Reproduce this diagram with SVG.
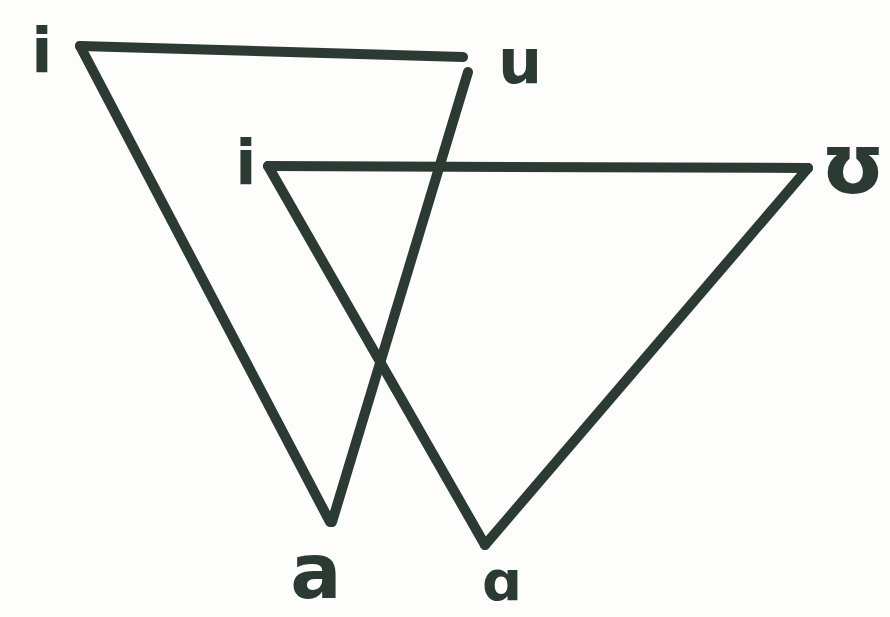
<svg xmlns="http://www.w3.org/2000/svg" width="890" height="617" viewBox="0 0 890 617">
<style>
.ln{stroke:#2b3b33;stroke-width:10;stroke-linecap:round;stroke-linejoin:round;fill:none}
.lb{font-family:"DejaVu Sans","Liberation Sans",sans-serif;fill:#2b3b33;text-anchor:middle;font-weight:bold}
</style>
<rect width="890" height="617" fill="#fdfdfb"/>
<g id="connectors">
<path class="ln" d="M80,46 L463,57"/>
<path class="ln" d="M80,46 L330,522"/>
<path class="ln" d="M468,72 L332,522"/>
<path class="ln" d="M268,166 L808,168"/>
<path class="ln" d="M268,166 L485,545"/>
<path class="ln" d="M808,168 L485,545"/>
</g>
<g id="node-i1"><text class="lb" x="42" y="72" font-size="62">i</text></g>
<g id="node-u1"><text class="lb" x="520" y="83" font-size="62">u</text></g>
<g id="node-i2"><text class="lb" x="246" y="184" font-size="62">i</text></g>
<g id="node-u2"><text class="lb" x="853" y="193" font-size="84">ʊ</text></g>
<g id="node-a1"><text class="lb" x="316" y="598" font-size="76">a</text></g>
<g id="node-a2"><text class="lb" x="502" y="600" font-size="56">ɑ</text></g>
</svg>
